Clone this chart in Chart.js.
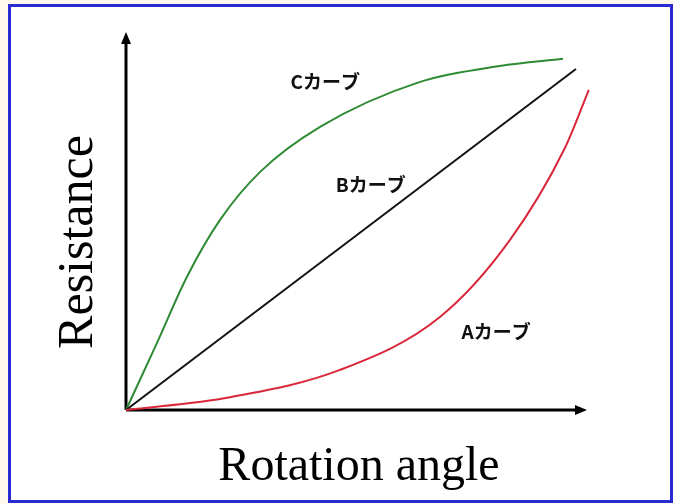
<!DOCTYPE html>
<html>
<head>
<meta charset="utf-8">
<script src="https://cdn.jsdelivr.net/npm/chart.js@4"></script>
<style>
  html, body { margin: 0; padding: 0; background: #fdf8ec; }
  #frame { position: absolute; left: 8px; top: 4px; width: 659px; height: 493px; border: 3px solid #2a2ad2; background: #ffffff; }
  #wrap { position: absolute; left: 0; top: 0; width: 673px; height: 504px; }
</style>
</head>
<body>
<div id="frame"></div>
<div id="wrap"><canvas id="c" width="673" height="504"></canvas></div>
<script>
// Curve names
const curveNames = ['Aカーブ', 'Bカーブ', 'Cカーブ'];
// Axis titles
const xTitle = 'Rotation angle';
const yTitle = 'Resistance';

// A curve (red)
const aX = [0, 22.6, 46.4, 68.1, 83.3, 95.2, 100.4];
const aY = [0, 3.4, 10.6, 24.6, 45.0, 69.3, 84.7];
// B curve (black, straight)
const bX = [0, 97.6];
const bY = [0, 90.2];
// C curve (green)
const cX = [0, 6.7, 13.2, 20.4, 29.1, 42.1, 63.8, 81.1, 94.8];
const cY = [0, 17.7, 35.2, 50.3, 63.0, 74.9, 86.8, 91.0, 92.9];

// label anchor points in data units
const labelX = [80.3, 53.1, 43.2];
const labelY = [20.6, 59.5, 86.8];

const toPts = (xs, ys) => xs.map((x, i) => ({ x: x, y: ys[i] }));

const axesPlugin = {
  id: 'axesPlugin',
  beforeDatasetsDraw(chart) {
    const { ctx, scales: { x, y } } = chart;
    const x0 = x.getPixelForValue(0), x1 = x.getPixelForValue(100);
    const y0 = y.getPixelForValue(0), y1 = y.getPixelForValue(100);
    ctx.save();
    ctx.strokeStyle = '#000';
    ctx.fillStyle = '#000';
    ctx.lineWidth = 3;
    ctx.beginPath();
    ctx.moveTo(x0, y0);
    ctx.lineTo(x0, y1 + 8);
    ctx.moveTo(x0, y0);
    ctx.lineTo(x1 - 8, y0);
    ctx.stroke();
    // arrow heads
    ctx.beginPath();
    ctx.moveTo(x0, y1);
    ctx.lineTo(x0 - 5, y1 + 12);
    ctx.lineTo(x0 + 5, y1 + 12);
    ctx.closePath();
    ctx.fill();
    ctx.beginPath();
    ctx.moveTo(x1, y0);
    ctx.lineTo(x1 - 12, y0 - 5);
    ctx.lineTo(x1 - 12, y0 + 5);
    ctx.closePath();
    ctx.fill();
    ctx.restore();
  },
  afterDatasetsDraw(chart) {
    const { ctx, scales: { x, y } } = chart;
    ctx.save();
    ctx.fillStyle = '#111';
    ctx.font = 'bold 19px "Noto Sans CJK JP"';
    ctx.textAlign = 'center';
    ctx.textBaseline = 'middle';
    curveNames.forEach((n, i) => {
      ctx.fillText(n, x.getPixelForValue(labelX[i]), y.getPixelForValue(labelY[i]));
    });
    // axis titles
    ctx.fillStyle = '#000';
    ctx.textBaseline = 'alphabetic';
    ctx.textAlign = 'center';
    ctx.font = '48px "Liberation Serif"';
    ctx.fillText(xTitle, 359, 480);
    ctx.font = '50px "Liberation Serif"';
    ctx.translate(92, 242);
    ctx.rotate(-Math.PI / 2);
    ctx.fillText(yTitle, 0, 0);
    ctx.restore();
  }
};

new Chart(document.getElementById('c'), {
  type: 'line',
  data: {
    datasets: [
      { label: curveNames[0], data: toPts(aX, aY), borderColor: '#d8283a', borderWidth: 2, cubicInterpolationMode: 'monotone' },
      { label: curveNames[1], data: toPts(bX, bY), borderColor: '#111111', borderWidth: 2 },
      { label: curveNames[2], data: toPts(cX, cY), borderColor: '#2e8b34', borderWidth: 2, cubicInterpolationMode: 'monotone' }
    ]
  },
  options: {
    responsive: false,
    animation: false,
    devicePixelRatio: 1,
    layout: { padding: { left: 126, right: 86, top: 32, bottom: 94 } },
    elements: { point: { radius: 0 }, line: { fill: false } },
    datasets: { line: { clip: false } },
    plugins: { legend: { display: false }, tooltip: { enabled: false } },
    scales: {
      x: { type: 'linear', min: 0, max: 100, display: false },
      y: { type: 'linear', min: 0, max: 100, display: false }
    }
  },
  plugins: [axesPlugin]
});
</script>
</body>
</html>
